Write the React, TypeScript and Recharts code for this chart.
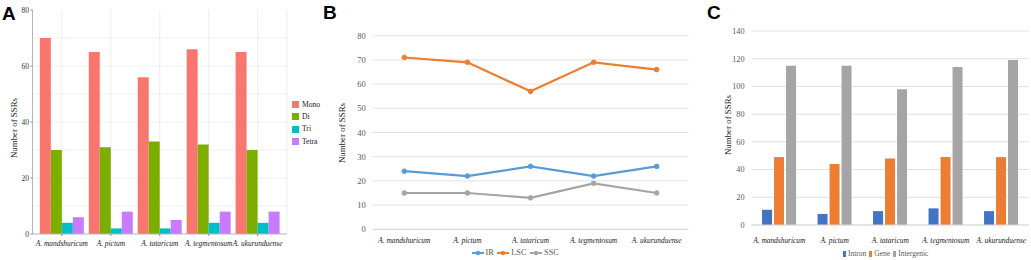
import React from "react";
import {
  BarChart,
  Bar,
  LineChart,
  Line,
  XAxis,
  YAxis,
  CartesianGrid,
  Legend,
} from "recharts";

const SPECIES = [
  "A. mandshuricum",
  "A. pictum",
  "A. tataricum",
  "A. tegmentosum",
  "A. ukurunduense",
];

// A: SSR motif types
const MONO = [70, 65, 56, 66, 65];
const DI = [30, 31, 33, 32, 30];
const TRI = [4, 2, 2, 4, 4];
const TETRA = [6, 8, 5, 8, 8];
const A_TICKS = [0, 20, 40, 60, 80];
const A_MINOR = [10, 20, 30, 40, 50, 60, 70];

// B: SSRs per region
const IR = [24, 22, 26, 22, 26];
const LSC = [71, 69, 57, 69, 66];
const SSC = [15, 15, 13, 19, 15];
const B_TICKS = [0, 10, 20, 30, 40, 50, 60, 70, 80];

// C: SSR location
const INTRON = [11, 8, 10, 12, 10];
const GENE = [49, 44, 48, 49, 49];
const INTERGENIC = [115, 115, 98, 114, 119];
const C_TICKS = [0, 20, 40, 60, 80, 100, 120, 140];

const SERIES_A = [
  { key: "Mono", values: MONO, color: "#F8766D" },
  { key: "Di", values: DI, color: "#7CAE00" },
  { key: "Tri", values: TRI, color: "#00BFC4" },
  { key: "Tetra", values: TETRA, color: "#C77CFF" },
];
const SERIES_B = [
  { key: "IR", values: IR, color: "#5B9BD5" },
  { key: "LSC", values: LSC, color: "#ED7D31" },
  { key: "SSC", values: SSC, color: "#A5A5A5" },
];
const SERIES_C = [
  { key: "Intron", values: INTRON, color: "#4472C4" },
  { key: "Gene", values: GENE, color: "#ED7D31" },
  { key: "Intergenic", values: INTERGENIC, color: "#A5A5A5" },
];

type Series = { key: string; values: number[]; color: string };

const toRows = (series: Series[]) =>
  SPECIES.map((name, i) => {
    const row: Record<string, string | number> = { name };
    series.forEach((s) => (row[s.key] = s.values[i]));
    return row;
  });

const dataA = toRows(SERIES_A);
const dataB = toRows(SERIES_B);
const dataC = toRows(SERIES_C);

const SERIF = '"Liberation Serif", "Times New Roman", Times, "DejaVu Serif", serif';
const BORDER = "#b5b5b5";
const EXCEL_GRID = "#d9d9d9";

const xTick = { fontSize: 7.4, fontStyle: "italic", fill: "#1a1a1a", fontFamily: SERIF };
const yTickA = { fontSize: 7.5, fill: "#333", fontFamily: SERIF };
const yTickB = { fontSize: 8.5, fill: "#595959", fontFamily: SERIF };
const yTickC = { fontSize: 8.2, fill: "#595959", fontFamily: SERIF };

function PanelLetter({ text, left, top }: { text: string; left: number; top: number }) {
  return (
    <div
      style={{
        position: "absolute",
        left,
        top,
        fontFamily: '"Liberation Sans", Arial, sans-serif',
        fontWeight: 700,
        fontSize: 19,
        lineHeight: 1,
        color: "#000",
      }}
    >
      {text}
    </div>
  );
}

function AxisTitle({ x, y }: { x: number; y: number }) {
  return (
    <div
      style={{
        position: "absolute",
        left: x,
        top: y,
        transform: "translate(-50%, -50%) rotate(-90deg)",
        whiteSpace: "nowrap",
        fontFamily: SERIF,
        fontSize: 8.9,
        lineHeight: 1,
        color: "#1a1a1a",
      }}
    >
      Number of SSRs
    </div>
  );
}

function SquareLegendColumn() {
  return (
    <div style={{ display: "flex", flexDirection: "column", fontFamily: SERIF }}>
      {SERIES_A.map((s) => (
        <div key={s.key} style={{ display: "flex", alignItems: "center", height: 12.3 }}>
          <span style={{ width: 7, height: 7, background: s.color, marginRight: 3.5 }} />
          <span style={{ fontSize: 7.6, color: "#1a1a1a", lineHeight: 1 }}>{s.key}</span>
        </div>
      ))}
    </div>
  );
}

function LineLegendRow() {
  return (
    <div style={{ display: "flex", alignItems: "center", height: 12, fontFamily: SERIF }}>
      {SERIES_B.map((s) => (
        <div key={s.key} style={{ display: "flex", alignItems: "center", marginRight: 3.5 }}>
          <svg width={12} height={6} style={{ marginRight: 2 }}>
            <line x1={0} y1={3} x2={12} y2={3} stroke={s.color} strokeWidth={2} />
            <circle cx={6} cy={3} r={2.2} fill={s.color} />
          </svg>
          <span style={{ fontSize: 8.3, color: "#595959", lineHeight: 1 }}>{s.key}</span>
        </div>
      ))}
    </div>
  );
}

function BarLegendRow() {
  return (
    <div style={{ display: "flex", alignItems: "center", height: 12, fontFamily: SERIF }}>
      {SERIES_C.map((s) => (
        <div key={s.key} style={{ display: "flex", alignItems: "center", marginRight: 3 }}>
          <span style={{ width: 3, height: 6.5, background: s.color, marginRight: 2 }} />
          <span style={{ fontSize: 7.5, color: "#595959", lineHeight: 1 }}>{s.key}</span>
        </div>
      ))}
    </div>
  );
}

export default function App() {
  return (
    <div
      style={{
        position: "absolute",
        left: 0,
        top: 0,
        width: 1031,
        height: 260,
        background: "#fff",
        fontFamily: SERIF,
        overflow: "hidden",
      }}
    >
      {/* A */}
      <div style={{ position: "absolute", left: 0, top: 0 }}>
        <BarChart
          width={345}
          height={260}
          data={dataA}
          margin={{ top: 10, right: 58, bottom: 0, left: 0 }}
          barCategoryGap="5%"
          barGap={0}
          style={{ fontFamily: SERIF }}
        >
          <CartesianGrid
            stroke="#ebebeb"
            strokeWidth={0.8}
            horizontalValues={A_MINOR}
          />
          <XAxis
            dataKey="name"
            height={26}
            padding={{ left: 4.9, right: 4.9 }}
            interval={0}
            tick={xTick}
            tickSize={2}
            tickMargin={4.5}
            tickLine={{ stroke: "#888" }}
            axisLine={{ stroke: BORDER }}
          />
          <XAxis
            xAxisId="top"
            dataKey="name"
            orientation="top"
            height={0}
            tick={false}
            tickLine={false}
            axisLine={{ stroke: BORDER }}
          />
          <YAxis
            width={32.5}
            domain={[0, 80]}
            ticks={A_TICKS}
            tick={yTickA}
            tickSize={2}
            tickMargin={1.5}
            tickLine={{ stroke: "#888" }}
            axisLine={{ stroke: BORDER }}
          />
          <YAxis
            yAxisId="right"
            orientation="right"
            width={0}
            domain={[0, 80]}
            tick={false}
            tickLine={false}
            axisLine={{ stroke: BORDER }}
          />
          {SERIES_A.map((s) => (
            <Bar key={s.key} dataKey={s.key} fill={s.color} isAnimationActive={false} />
          ))}
          <Legend
            layout="vertical"
            align="center"
            verticalAlign="middle"
            wrapperStyle={{ left: 291.5, top: 98.5, width: 50 }}
            content={() => <SquareLegendColumn />}
          />
        </BarChart>
        <AxisTitle x={14} y={128} />
        <PanelLetter text="A" left={2} top={4} />
      </div>

      {/* B */}
      <div style={{ position: "absolute", left: 340, top: 0 }}>
        <LineChart
          width={350}
          height={260}
          data={dataB}
          margin={{ top: 35.7, right: 1.7, bottom: 0, left: 0 }}
          style={{ fontFamily: SERIF }}
        >
          <CartesianGrid stroke={EXCEL_GRID} strokeWidth={0.8} vertical={false} />
          <XAxis
            dataKey="name"
            scale="point"
            height={30.7}
            padding={{ left: 31.6, right: 31.6 }}
            interval={0}
            tick={xTick}
            tickSize={0}
            tickMargin={8.5}
            tickLine={false}
            axisLine={{ stroke: EXCEL_GRID }}
          />
          <YAxis
            width={32.7}
            domain={[0, 80]}
            ticks={B_TICKS}
            tick={yTickB}
            tickSize={0}
            tickMargin={7}
            tickLine={false}
            axisLine={false}
          />
          {SERIES_B.map((s) => (
            <Line
              key={s.key}
              dataKey={s.key}
              stroke={s.color}
              strokeWidth={2.2}
              dot={{ r: 2.3, fill: s.color, stroke: s.color, strokeWidth: 1 }}
              isAnimationActive={false}
            />
          ))}
          <Legend
            layout="horizontal"
            align="center"
            verticalAlign="middle"
            wrapperStyle={{ left: 131.5, top: 247, width: 120 }}
            content={() => <LineLegendRow />}
          />
        </LineChart>
        <AxisTitle x={1.5} y={133} />
        <PanelLetter text="B" left={-17} top={3} />
      </div>

      {/* C */}
      <div style={{ position: "absolute", left: 686, top: 0 }}>
        <BarChart
          width={345}
          height={260}
          data={dataC}
          margin={{ top: 31, right: 2, bottom: 0, left: 0 }}
          barCategoryGap="19%"
          barGap={2}
          style={{ fontFamily: SERIF }}
        >
          <CartesianGrid stroke={EXCEL_GRID} strokeWidth={0.8} vertical={false} />
          <XAxis
            dataKey="name"
            height={35}
            interval={0}
            tick={xTick}
            tickSize={0}
            tickMargin={13}
            tickLine={false}
            axisLine={{ stroke: EXCEL_GRID }}
          />
          <YAxis
            width={65.5}
            domain={[0, 140]}
            ticks={C_TICKS}
            tick={yTickC}
            tickSize={0}
            tickMargin={7}
            tickLine={false}
            axisLine={false}
          />
          {SERIES_C.map((s) => (
            <Bar key={s.key} dataKey={s.key} fill={s.color} isAnimationActive={false} />
          ))}
          <Legend
            layout="horizontal"
            align="center"
            verticalAlign="middle"
            wrapperStyle={{ left: 157, top: 248, width: 120 }}
            content={() => <BarLegendRow />}
          />
        </BarChart>
        <AxisTitle x={41.5} y={125} />
        <PanelLetter text="C" left={21} top={3} />
      </div>
    </div>
  );
}
